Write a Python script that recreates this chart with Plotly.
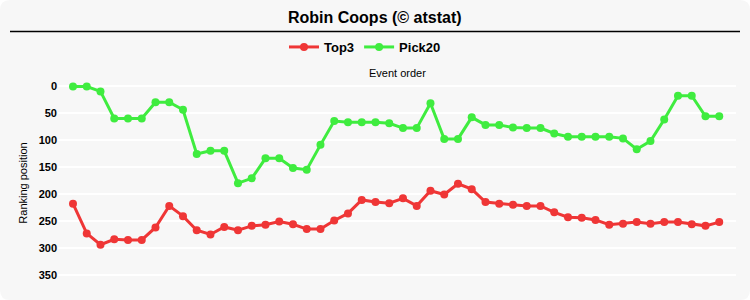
import plotly.graph_objects as go

events = list(range(1, 49))
top3 = [218, 273, 294, 284, 285, 285, 262, 222, 241, 267, 275, 261, 267,
        259, 257, 251, 256, 265, 265, 249, 236, 211, 215, 217, 208, 222,
        194, 201, 181, 191, 215, 218, 220, 222, 222, 234, 243, 244, 248,
        257, 255, 252, 255, 252, 252, 256, 259, 252]
pick20 = [1, 1, 10, 60, 60, 60, 30, 30, 44, 126, 120, 120, 180,
          171, 134, 134, 152, 155, 109, 65, 67, 67, 67, 69, 78, 78,
          32, 98, 98, 58, 72, 72, 77, 78, 78, 88, 94, 94, 94,
          94, 97, 117, 102, 62, 18, 18, 56, 56]
y_ticks = [0, 50, 100, 150, 200, 250, 300, 350]

W, H = 750, 300
L, R, T, B = 58, 14, 76, 10
pw, ph = W - L - R, H - T - B


def px(x):
    return (x - L) / pw


def py(y):
    return (H - B - y) / ph


FONT = "Liberation Sans, Arial, sans-serif"
RED = "#ef3636"
GREEN = "#3fec3f"

fig = go.Figure()
fig.add_trace(go.Scatter(x=events, y=top3, name="Top3", mode="lines+markers",
                         line=dict(color=RED, width=3),
                         marker=dict(color=RED, size=8)))
fig.add_trace(go.Scatter(x=events, y=pick20, name="Pick20", mode="lines+markers",
                         line=dict(color=GREEN, width=3),
                         marker=dict(color=GREEN, size=8)))

# rounded background panel
r = 10
x0, x1, y0, y1 = 0, W, 0, H
path = (f"M {px(x0 + r)} {py(y0)} L {px(x1 - r)} {py(y0)} "
        f"Q {px(x1)} {py(y0)} {px(x1)} {py(y0 + r)} "
        f"L {px(x1)} {py(y1 - r)} Q {px(x1)} {py(y1)} {px(x1 - r)} {py(y1)} "
        f"L {px(x0 + r)} {py(y1)} Q {px(x0)} {py(y1)} {px(x0)} {py(y1 - r)} "
        f"L {px(x0)} {py(y0 + r)} Q {px(x0)} {py(y0)} {px(x0 + r)} {py(y0)} Z")

fig.update_layout(
    width=W, height=H,
    margin=dict(l=L, r=R, t=T, b=B),
    paper_bgcolor="white",
    plot_bgcolor="rgba(0,0,0,0)",
    font=dict(family=FONT, color="#000"),
    showlegend=True,
    legend=dict(orientation="h", x=px(284), xanchor="left",
                y=py(47), yanchor="middle",
                font=dict(size=13, weight="bold", family=FONT),
                bgcolor="rgba(0,0,0,0)"),
    shapes=[
        dict(type="path", path=path, xref="paper", yref="paper",
             fillcolor="#f7f7f7", line=dict(width=0), layer="below"),
        dict(type="line", xref="paper", yref="paper",
             x0=px(10), x1=px(740), y0=py(31.5), y1=py(31.5),
             line=dict(color="black", width=1.5)),
    ],
    annotations=[
        dict(text="Robin Coops (© atstat)", xref="paper", yref="paper",
             x=px(375), y=py(17), xanchor="center", yanchor="middle",
             showarrow=False, font=dict(size=16, weight="bold", family=FONT)),
        dict(text="Event order", xref="paper", yref="paper",
             x=0.5, y=py(73), xanchor="center", yanchor="middle",
             showarrow=False, font=dict(size=11, family=FONT)),
    ],
    xaxis=dict(range=[-0.09, 49.22], showgrid=False, zeroline=False,
               showticklabels=False, showline=False, ticks=""),
    yaxis=dict(range=[(H - B - 86) / 0.54, (T - 86) / 0.54],
               tickvals=y_ticks, ticks="", showline=False, zeroline=False,
               gridcolor="white", gridwidth=1.5,
               tickfont=dict(size=11, weight="bold", family=FONT),
               title=dict(text="Ranking position", font=dict(size=11, family=FONT),
                          standoff=8)),
)

fig.write_html("out.html")
